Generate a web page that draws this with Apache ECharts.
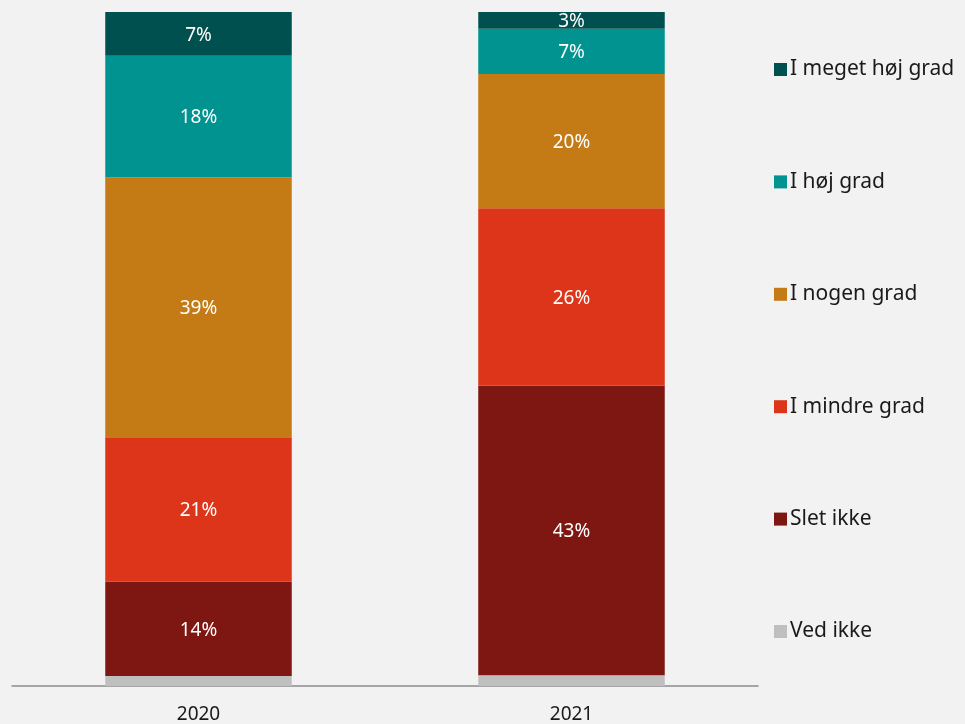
<!DOCTYPE html>
<html><head><meta charset="utf-8">
<script src="https://cdn.jsdelivr.net/npm/echarts@6/dist/echarts.min.js"></script>
<style>html,body{margin:0;padding:0;background:#f2f2f2}#c{width:965px;height:724px}</style>
</head><body><div id="c"></div>
<script>
const categories = ['2020', '2021'];
const seriesNames = ['Ved ikke', 'Slet ikke', 'I mindre grad', 'I nogen grad', 'I høj grad', 'I meget høj grad'];
const vedIkke = [1.5, 1.6];
const sletIkke = [14.0, 43.0];
const mindreGrad = [21.4, 26.3];
const nogenGrad = [38.6, 19.9];
const hoejGrad = [18.0, 6.7];
const megetHoejGrad = [6.5, 2.5];
const seriesValues = [vedIkke, sletIkke, mindreGrad, nogenGrad, hoejGrad, megetHoejGrad];
const colors = ['#bfbfbf', '#7e1612', '#dd3519', '#c47a15', '#00938f', '#00504f'];
const showLabel = [false, true, true, true, true, true];

const chart = echarts.init(document.getElementById('c'));
const font = '"Noto Sans", sans-serif';
chart.setOption({
  backgroundColor: '#f2f2f2',
  animation: false,
  grid: { left: 12, right: 207, top: 12, bottom: 37 },
  xAxis: {
    type: 'category', data: categories,
    axisLine: { lineStyle: { color: '#8c8c8c', width: 1.5 } },
    axisTick: { show: false },
    axisLabel: { color: '#1a1a1a', fontSize: 19, fontFamily: font, margin: 19 }
  },
  yAxis: { type: 'value', min: 0, max: 100, show: false, splitLine: { show: false } },
  legend: {
    orient: 'vertical', left: 774, top: 59, padding: 0,
    data: seriesNames.slice().reverse(),
    itemWidth: 13, itemHeight: 13, itemGap: 91.4,
    icon: 'rect',
    textStyle: { color: '#1a1a1a', fontSize: 21, fontFamily: font, lineHeight: 21, padding: [0, 0, 0, -2] }
  },
  series: seriesNames.map((name, i) => ({
    name, type: 'bar', stack: 'total', barWidth: '50%',
    data: seriesValues[i],
    itemStyle: { color: colors[i] },
    label: {
      show: showLabel[i], position: 'inside', color: '#ffffff', fontSize: 19, fontFamily: font,
      offset: [0, 1.5],
      formatter: p => Math.round(p.value) + '%'
    }
  }))
});
</script></body></html>
